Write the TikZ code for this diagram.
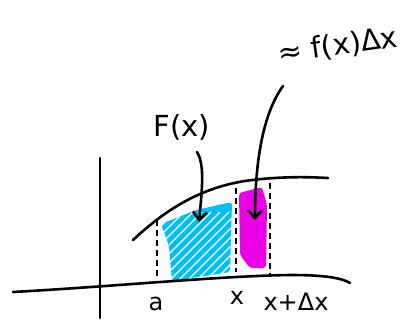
\documentclass[tikz,border=0pt]{standalone}
\usepackage{fontspec}
\setmainfont{DejaVu Sans}
\usetikzlibrary{arrows.meta}
\definecolor{skycyan}{RGB}{0,190,240}
\definecolor{pinkmag}{RGB}{235,0,230}
\tikzset{
  ink/.style={line width=2.6pt, line cap=round, line join=round, black},
  guide/.style={line width=2pt, dash pattern=on 6pt off 4pt, black},
  hand/.style={font=\fontsize{29}{31}\selectfont, inner sep=0pt},
  small/.style={font=\fontsize{24}{26}\selectfont, inner sep=0pt},
  pointer/.style={ink, -{Straight Barb[length=8pt,width=14pt,line width=2.6pt]}}
}
\begin{document}
\begin{tikzpicture}[x=1pt,y=-1pt]
\useasboundingbox (0,0) rectangle (414,322);
% shaded areas
\begin{scope}
  \path[fill=skycyan, rounded corners=3pt] (161,224) -- (196,210) -- (232,202) -- (230,272) -- (172,281) -- (169,246) -- cycle;
  \clip (161,224) -- (196,210) -- (232,202) -- (230,272) -- (172,281) -- (169,246) -- cycle;
  \foreach \d in {-100,-91,...,150}
    \draw[white, line width=1.1pt] (150+\d,292) -- (230+\d,212);
\end{scope}
\path[fill=pinkmag, rounded corners=3pt] (239,193) -- (262,187) -- (267,205) -- (266,268) -- (250,268) -- (240,255) -- cycle;
% axes
\draw[ink] (100,158) -- (100,318);
\draw[ink] (13,292) .. controls (120,286) and (220,276) .. (290,275) .. controls (320,275) and (340,277) .. (350,283);
% curve
\draw[ink] (133,240) .. controls (165,210) and (200,188) .. (245,181) .. controls (280,176) and (310,177) .. (328,178);
% dashed guides
\draw[guide] (157,220) -- (157,276);
\draw[guide] (236,188) -- (236,272);
\draw[guide] (270,183) -- (270,276);
% labels
\node[small] (la) at (156,304) {a};
\node[small] (lx) at (237,298) {x};
\node[small] (lxd) at (296,302) {x+Δx};
\node[hand] (lF) at (182,127) {F(x)};
\node[hand, rotate=8] (lf) at (338,46) {≈ f(x)Δx};
% pointers
\coordinate (sF) at (197,152);
\coordinate (pF) at (199,222);
\coordinate (sf) at (283,86);
\coordinate (pf) at (255,220);
\draw[pointer] (sF) .. controls (205,165) and (202,190) .. (pF);
\draw[pointer] (sf) .. controls (262,115) and (255,165) .. (pf);
\end{tikzpicture}
\end{document}
